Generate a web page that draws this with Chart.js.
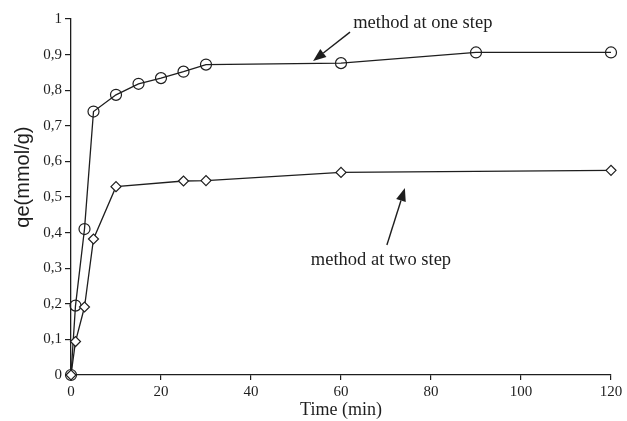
<!DOCTYPE html>
<html>
<head>
<meta charset="utf-8">
<script src="https://cdn.jsdelivr.net/npm/chart.js@4"></script>
<style>
  body { margin: 0; background: #fff; }
  #wrap { width: 627px; height: 421px; }
</style>
</head>
<body>
<div id="wrap"><canvas id="kinetics"></canvas></div>
<script>
// values
const oneStepTime = [0, 1, 3, 5, 10, 15, 20, 25, 30, 60, 90, 120];
const oneStepQe   = [0, 0.195, 0.41, 0.74, 0.787, 0.818, 0.834, 0.852, 0.872, 0.876, 0.906, 0.906];
const twoStepTime = [0, 1, 3, 5, 10, 25, 30, 60, 120];
const twoStepQe   = [0, 0.094, 0.191, 0.382, 0.529, 0.545, 0.546, 0.569, 0.575];
const xTicks = [0, 20, 40, 60, 80, 100, 120];
const yTicks = [0, 0.1, 0.2, 0.3, 0.4, 0.5, 0.6, 0.7, 0.8, 0.9, 1];

const ink = '#1e1e1e';
const serif = "'Liberation Serif', 'Times New Roman', serif";

function pts(xs, ys) {
    return xs.map((x, i) => ({ x: x, y: ys[i] }));
}

// arrows + labels, placed in data units
const notes = {
    id: 'notes',
    afterDatasetsDraw(chart) {
        const ctx = chart.ctx;
        const sx = chart.scales.x, sy = chart.scales.y;
        const P = (x, y) => [sx.getPixelForValue(x), sy.getPixelForValue(y)];
        function arrow(a, b) {
            const [x1, y1] = P(a[0], a[1]);
            const [x2, y2] = P(b[0], b[1]);
            const ang = Math.atan2(y2 - y1, x2 - x1);
            const len = 13, half = 5;
            const bx = x2 - len * Math.cos(ang), by = y2 - len * Math.sin(ang);
            ctx.save();
            ctx.strokeStyle = ink;
            ctx.fillStyle = ink;
            ctx.lineWidth = 1.4;
            ctx.beginPath();
            ctx.moveTo(x1, y1);
            ctx.lineTo(bx, by);
            ctx.stroke();
            ctx.beginPath();
            ctx.moveTo(x2, y2);
            ctx.lineTo(bx + half * Math.sin(ang), by - half * Math.cos(ang));
            ctx.lineTo(bx - half * Math.sin(ang), by + half * Math.cos(ang));
            ctx.closePath();
            ctx.fill();
            ctx.restore();
        }
        function label(txt, x, y) {
            const [px, py] = P(x, y);
            ctx.save();
            ctx.font = '18.5px ' + serif;
            ctx.fillStyle = ink;
            ctx.textAlign = 'left';
            ctx.textBaseline = 'alphabetic';
            ctx.fillText(txt, px, py);
            ctx.restore();
        }
        label('method at one step', 62.7, 0.975);
        arrow([62.0, 0.963], [53.8, 0.882]);
        label('method at two step', 53.3, 0.309);
        arrow([70.2, 0.365], [74.2, 0.525]);

        // y axis title sits above the axis middle in the original
        ctx.save();
        ctx.translate(23, sy.getPixelForValue(0.556));
        ctx.rotate(-Math.PI / 2);
        ctx.font = "20px 'Liberation Sans', Arial, sans-serif";
        ctx.fillStyle = ink;
        ctx.textAlign = 'center';
        ctx.textBaseline = 'middle';
        ctx.fillText('qe(mmol/g)', 0, 0);
        ctx.restore();
    }
};

new Chart(document.getElementById('kinetics'), {
    type: 'line',
    data: {
        datasets: [{
            label: 'method at two step',
            data: pts(twoStepTime, twoStepQe),
            borderColor: ink,
            borderWidth: 1.3,
            pointStyle: 'rectRot',
            pointRadius: 5,
            pointBorderWidth: 1.2,
            pointBackgroundColor: '#fff',
            pointBorderColor: ink,
            tension: 0,
            clip: false
        }, {
            label: 'method at one step',
            data: pts(oneStepTime, oneStepQe),
            borderColor: ink,
            borderWidth: 1.3,
            pointStyle: 'circle',
            pointRadius: 5.5,
            pointBorderWidth: 1.2,
            pointBackgroundColor: 'rgba(255,255,255,0)',
            pointBorderColor: ink,
            tension: 0,
            clip: false
        }]
    },
    options: {
        responsive: true,
        maintainAspectRatio: false,
        animation: false,
        layout: { padding: { top: 19, right: 16, bottom: 0, left: 0 } },
        plugins: {
            legend: { display: false },
            tooltip: { enabled: false }
        },
        scales: {
            x: {
                type: 'linear',
                min: 0,
                max: 120,
                afterFit: (s) => { s.height = 46; },
                afterBuildTicks: (s) => { s.ticks = xTicks.map(v => ({ value: v })); },
                border: { display: true, color: ink, width: 1.3 },
                grid: { drawOnChartArea: false, color: ink, tickLength: 5, lineWidth: 1.2 },
                ticks: {
                    color: ink,
                    padding: 3,
                    maxRotation: 0,
                    font: { family: serif, size: 15 }
                },
                title: {
                    display: true,
                    text: 'Time (min)',
                    color: ink,
                    padding: { top: 0, bottom: 0 },
                    font: { family: serif, size: 18 }
                }
            },
            y: {
                type: 'linear',
                min: 0,
                max: 1,
                afterFit: (s) => { s.width = 71; },
                afterBuildTicks: (s) => { s.ticks = yTicks.map(v => ({ value: v })); },
                border: { display: true, color: ink, width: 1.3 },
                grid: { drawOnChartArea: false, color: ink, tickLength: 6, lineWidth: 1.2 },
                ticks: {
                    color: ink,
                    padding: 3,
                    font: { family: serif, size: 15 },
                    callback: (v) => (v === 0 || v === 1) ? String(v) : v.toFixed(1).replace('.', ',')
                },
                title: { display: false }
            }
        }
    },
    plugins: [notes]
});
</script>
</body>
</html>
